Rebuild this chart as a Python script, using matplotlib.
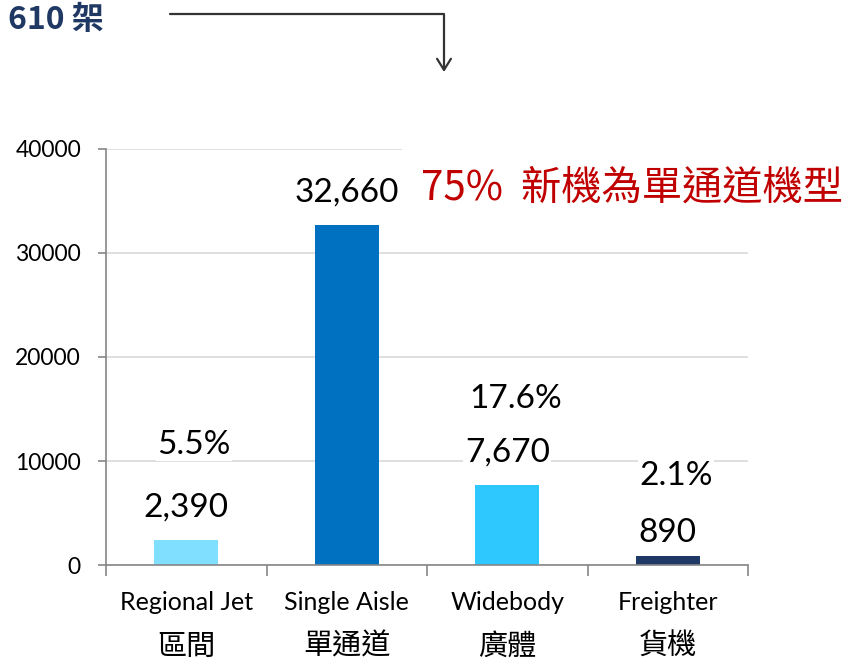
import matplotlib
matplotlib.use("Agg")
import matplotlib.pyplot as plt
from matplotlib.patches import Rectangle

plt.rcParams['font.family'] = ['Lato', 'Noto Sans CJK TC', 'DejaVu Sans']

# data
categories_en = ['Regional Jet', 'Single Aisle', 'Widebody', 'Freighter']
categories_zh = ['區間', '單通道', '廣體', '貨機']
deliveries = [2390, 32660, 7670, 890]
value_labels = ['2,390', '32,660', '7,670', '890']
share_labels = ['5.5%', None, '17.6%', '2.1%']
bar_colors = ['#80DFFF', '#0070C0', '#2EC8FF', '#1F3864']

fig = plt.figure(figsize=(8.64, 6.63), dpi=100)
W, H = 864, 663
ax = fig.add_axes([106 / W, 1 - 565 / H, (748 - 106) / W, (565 - 149) / H])

x = list(range(len(deliveries)))
ax.bar(x, deliveries, width=0.4, color=bar_colors, zorder=2)

ax.set_xlim(-0.5, 3.5)
ax.set_ylim(0, 40000)
ax.set_yticks([0, 10000, 20000, 30000, 40000])
ax.set_yticklabels(['0', '10000', '20000', '30000', '40000'], fontsize=16.5)
ax.set_xticks([-0.5, 0.5, 1.5, 2.5, 3.5])
ax.set_xticklabels([])
ax.yaxis.grid(True, color='#D9D9D9', linewidth=1.2, zorder=0)
ax.set_axisbelow(True)
for s in ['top', 'right']:
    ax.spines[s].set_visible(False)
for s in ['left', 'bottom']:
    ax.spines[s].set_color('#868686')
    ax.spines[s].set_linewidth(1.2)
ax.tick_params(axis='y', direction='out', length=6, width=1.2, color='#868686', pad=12)
ax.tick_params(axis='x', direction='out', length=8, width=1.2, color='#868686')

# value labels and share labels above bars (pixel offsets above bar top)
val_off = [33, 33, 33, 23]
pct_off = [95, 0, 86, 80]
box = dict(facecolor='white', edgecolor='none', pad=1)
for i, v in enumerate(deliveries):
    ax.annotate(value_labels[i], (i, v), xytext=(0, val_off[i] * 0.72),
                textcoords='offset points', ha='center', va='center',
                fontsize=24, color='black', bbox=box, zorder=3)
    if share_labels[i]:
        ax.annotate(share_labels[i], (i, v), xytext=(0.08 * 72, pct_off[i] * 0.72),
                    textcoords='offset points', ha='center', va='center',
                    fontsize=24, color='black', bbox=box, zorder=3)

# category labels
for i in x:
    ax.text(i, -0.09, categories_en[i], transform=ax.get_xaxis_transform(),
            ha='center', va='center', fontsize=18, color='black')
    ax.text(i, -0.197, categories_zh[i], transform=ax.get_xaxis_transform(),
            ha='center', va='center', fontsize=21, color='black',
            family=['Noto Sans CJK TC'])

# headline box covering top gridline
fig.patches.append(Rectangle((402 / W, 1 - 220 / H), (W - 402) / W, 85 / H,
                             transform=fig.transFigure, facecolor='white',
                             edgecolor='none', zorder=5))
fig.text(632 / W, 1 - 188 / H, '75%  新機為單通道機型', ha='center', va='center',
         fontsize=29, color='#C00000', family=['Noto Sans CJK TC'], zorder=6)

fig.text(8 / W, 1 - 20 / H, '610 架', ha='left', va='center', fontsize=23,
         color='#1F3864', fontweight='bold', family=['Noto Sans CJK TC'])

ax.annotate('', xy=(444, H - 72), xytext=(170, H - 14),
            xycoords='figure pixels', textcoords='figure pixels',
            arrowprops=dict(arrowstyle='->,head_length=0.8,head_width=0.5',
                            connectionstyle='angle,angleA=0,angleB=90,rad=0',
                            color='#333333', lw=1.6, shrinkA=0, shrinkB=0),
            annotation_clip=False)

fig.savefig('out.png', dpi=100)
